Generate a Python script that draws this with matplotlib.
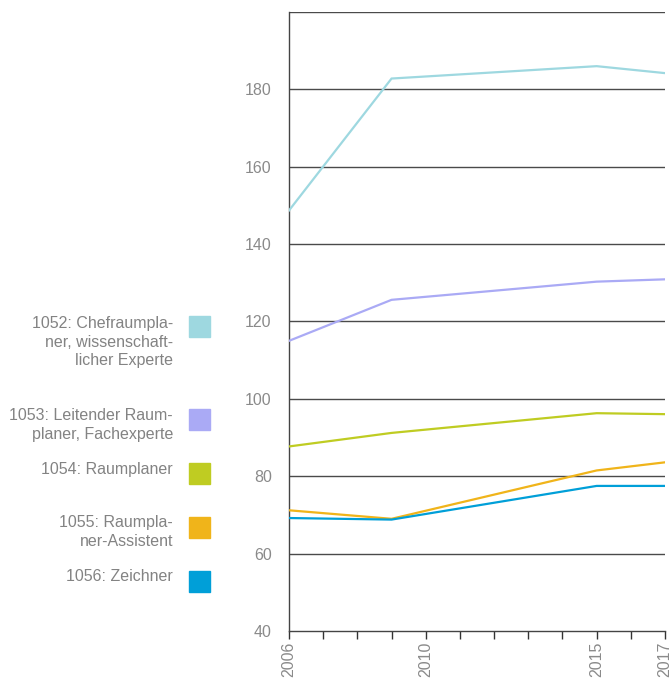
import matplotlib
matplotlib.use("Agg")
import matplotlib.pyplot as plt
from matplotlib.patches import Rectangle

years = [2006, 2009, 2015, 2017]
labels = [
    "1052: Chefraumpla-\nner, wissenschaft-\nlicher Experte",
    "1053: Leitender Raum-\nplaner, Fachexperte",
    "1054: Raumplaner",
    "1055: Raumpla-\nner-Assistent",
    "1056: Zeichner",
]
s1052 = [148.7, 182.8, 186.0, 184.2]
s1053 = [115.0, 125.6, 130.3, 130.9]
s1054 = [87.7, 91.2, 96.3, 96.05]
s1055 = [71.2, 69.0, 81.5, 83.6]
s1056 = [69.2, 68.8, 77.5, 77.5]
series = [s1052, s1053, s1054, s1055, s1056]
colors = ["#9ED8E0", "#AAAAF5", "#BFCC22", "#F0B41A", "#009FD8"]
yticks = [40, 60, 80, 100, 120, 140, 160, 180]
xtick_labels = [2006, 2010, 2015, 2017]

plt.rcParams['font.family'] = ['Liberation Sans', 'DejaVu Sans']

W, H = 671, 686
fig = plt.figure(figsize=(W / 100, H / 100), dpi=100)
ax = fig.add_axes([289 / W, 1 - 631 / H, (665 - 289) / W, (631 - 12) / H])

for s, c in zip(series, colors):
    ax.plot(years, s, color=c, lw=1.6, solid_joinstyle='miter', zorder=3)

ax.set_xlim(2006, 2017)
ax.set_ylim(40, 200)
ax.set_yticks(yticks)
ax.set_yticklabels([str(v) for v in yticks])
for v in yticks[1:] + [200]:
    ax.axhline(v, color="#4a4a4a", lw=1.0, zorder=1)

ax.set_xticks(list(range(2006, 2018)), minor=True)
ax.set_xticks(xtick_labels)
ax.set_xticklabels([str(v) for v in xtick_labels], rotation=90)
ax.tick_params(axis='x', which='both', direction='out', length=6, width=1,
               color="#333333", labelcolor="#8a8a8a", labelsize=11.5, pad=2)
ax.tick_params(axis='y', length=0, labelcolor="#8a8a8a", labelsize=11.5, pad=12.5)
for sp in ['right', 'top']:
    ax.spines[sp].set_visible(False)
for sp in ['left', 'bottom']:
    ax.spines[sp].set_color("#444444")
    ax.spines[sp].set_linewidth(1.0)

# legend on the left
square_centers = [327, 419, 473, 527, 581]
text_tops = [316, 408, 462, 515, 569]
for lab, c, yc, yt in zip(labels, colors, square_centers, text_tops):
    fig.patches.append(Rectangle((189 / W, 1 - (yc + 10.5) / H), 21 / W, 21 / H,
                                 transform=fig.transFigure, color=c, figure=fig))
    fig.text(173 / W, 1 - yt / H, lab, ha='right', va='top', color="#838383",
             fontsize=11.5, linespacing=1.3, multialignment='right')

fig.savefig("out.png", dpi=100)
